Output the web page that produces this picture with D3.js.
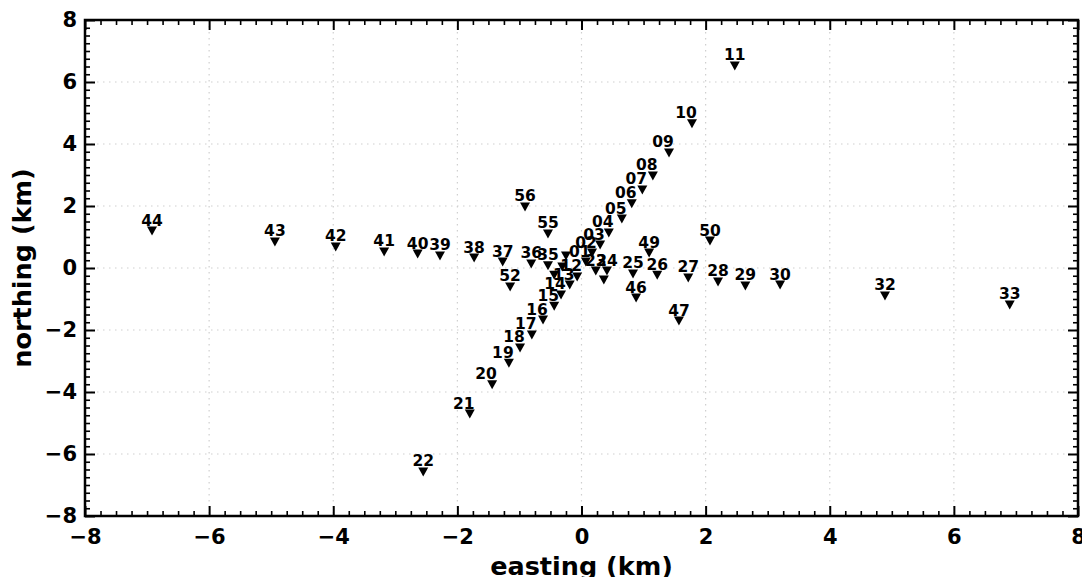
<!DOCTYPE html>
<html>
<head>
<meta charset="utf-8">
<script src="https://cdn.jsdelivr.net/npm/d3@7"></script>
<style>
  body { margin: 0; background: #fff; }
  text { font-family: "DejaVu Sans", sans-serif; font-weight: bold; fill: #000; }
</style>
</head>
<body>
<svg id="chart" width="1082" height="577"></svg>
<script>
// Station layout: names and coordinates (km)
const stationNames = [
  "01","02","03","04","05","06","07","08","09","10","11",
  "12","13","14","15","16","17","18","19","20","21","22",
  "23","24","25","26","27","28","29","30","32","33",
  "35","36","37","38","39","40","41","42","43","44",
  "46","47","49","50","52","55","56"
];
const eastingKm = [
  0.07, 0.17, 0.30, 0.44, 0.65, 0.81, 0.98, 1.15, 1.41, 1.78, 2.47,
  -0.07, -0.19, -0.33, -0.44, -0.62, -0.80, -0.99, -1.17, -1.44, -1.80, -2.55,
  0.23, 0.41, 0.83, 1.22, 1.72, 2.20, 2.64, 3.20, 4.89, 6.90,
  -0.54, -0.81, -1.27, -1.73, -2.28, -2.64, -3.18, -3.96, -4.94, -6.92,
  0.88, 1.57, 1.09, 2.07, -1.15, -0.54, -0.91
];
const northingKm = [
  0.19, 0.48, 0.74, 1.13, 1.58, 2.07, 2.52, 2.97, 3.71, 4.65, 6.52,
  -0.29, -0.55, -0.87, -1.23, -1.68, -2.16, -2.58, -3.07, -3.77, -4.71, -6.58,
  -0.10, -0.10, -0.19, -0.23, -0.32, -0.45, -0.58, -0.55, -0.90, -1.19,
  0.07, 0.13, 0.19, 0.32, 0.39, 0.45, 0.52, 0.68, 0.84, 1.19,
  -0.97, -1.71, 0.48, 0.87, -0.61, 1.10, 1.97
];
// Central markers whose names sit underneath neighbouring labels
const centralEasting = [-0.25, -0.31, -0.44, 0.36];
const centralNorthing = [0.39, 0.03, -0.23, -0.39];
// Inner stations of the SW-NE line get their names set slightly left of the line
const leftSetNames = ["01","02","03","04","05","06","07","08","09","10",
  "12","13","14","15","16","17","18","19","20","21"];

const majorTicks = [-8, -6, -4, -2, 0, 2, 4, 6, 8];
const axisDomain = [-8, 8];

const svg = d3.select("#chart");
const plotLeft = 85, plotRight = 1078, plotTop = 20, plotBottom = 516;

const x = d3.scaleLinear().domain(axisDomain).range([plotLeft, plotRight]);
const y = d3.scaleLinear().domain(axisDomain).range([plotBottom, plotTop]);
const minorTicks = d3.range(-8, 8.001, 0.25).filter(v => Math.abs(v / 2 - Math.round(v / 2)) > 1e-6);
const fmt = v => (v < 0 ? "\u2212" + Math.abs(v) : String(v));

// dotted grid at major ticks
const grid = svg.append("g").attr("stroke", "#cfcfcf").attr("stroke-width", 1.2)
  .attr("stroke-dasharray", "1.5,4.5");
majorTicks.slice(1, -1).forEach(v => {
  grid.append("line").attr("x1", x(v)).attr("x2", x(v)).attr("y1", plotTop).attr("y2", plotBottom);
  grid.append("line").attr("x1", plotLeft).attr("x2", plotRight).attr("y1", y(v)).attr("y2", y(v));
});

// downward triangle marker
const tri = (w, h) => `M0,${h / 2}L${-w / 2},${-h / 2}L${w / 2},${-h / 2}Z`;
const marks = svg.append("g");
stationNames.forEach((name, i) => {
  const px = x(eastingKm[i]), py = y(northingKm[i]);
  const dx = leftSetNames.includes(name) ? -6 : 0;
  marks.append("path").attr("d", tri(10, 9)).attr("transform", `translate(${px},${py})`).attr("fill", "#000");
  marks.append("text").attr("x", px + dx).attr("y", py - 5.5).attr("text-anchor", "middle")
    .attr("font-size", 15.5).text(name);
});
centralEasting.forEach((e, i) => {
  marks.append("path").attr("d", tri(10, 9))
    .attr("transform", `translate(${x(e)},${y(centralNorthing[i])})`).attr("fill", "#000");
});

// axes: ticks inward on all four sides
const axG = svg.append("g");
const axes = [
  { gen: d3.axisBottom(x), t: `translate(0,${plotBottom})`, labels: true, pad: 13 },
  { gen: d3.axisTop(x), t: `translate(0,${plotTop})`, labels: false, pad: 0 },
  { gen: d3.axisLeft(y), t: `translate(${plotLeft},0)`, labels: true, pad: 8 },
  { gen: d3.axisRight(y), t: `translate(${plotRight},0)`, labels: false, pad: 0 }
];
axes.forEach(a => {
  const minor = axG.append("g").attr("transform", a.t)
    .call(a.gen.tickValues(minorTicks).tickSizeInner(-5).tickSizeOuter(0).tickFormat(""));
  minor.select(".domain").remove();
  minor.selectAll(".tick line").attr("stroke", "#000").attr("stroke-width", 1.6);
  const major = axG.append("g").attr("transform", a.t)
    .call(a.gen.tickValues(majorTicks).tickSizeInner(-10).tickSizeOuter(0)
      .tickPadding(a.pad).tickFormat(a.labels ? fmt : ""));
  major.select(".domain").remove();
  major.selectAll(".tick line").attr("stroke", "#000").attr("stroke-width", 2);
  major.selectAll(".tick text").attr("font-size", 21).attr("font-family", "DejaVu Sans").attr("font-weight", "bold");
});
axG.append("rect").attr("x", plotLeft).attr("y", plotTop)
  .attr("width", plotRight - plotLeft).attr("height", plotBottom - plotTop)
  .attr("fill", "none").attr("stroke", "#000").attr("stroke-width", 2.5);

svg.append("text").attr("x", (plotLeft + plotRight) / 2).attr("y", 575).attr("text-anchor", "middle")
  .attr("font-size", 25.5).text("easting (km)");
svg.append("text").attr("transform", `translate(31,${(plotTop + plotBottom) / 2}) rotate(-90)`)
  .attr("text-anchor", "middle").attr("font-size", 25.5).text("northing (km)");
</script>
</body>
</html>
